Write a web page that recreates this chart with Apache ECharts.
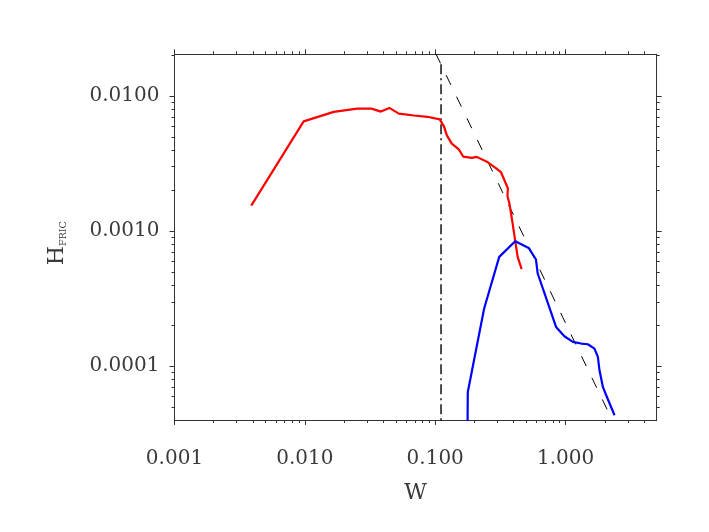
<!DOCTYPE html>
<html>
<head>
<meta charset="utf-8">
<script src="https://cdn.jsdelivr.net/npm/echarts@6/dist/echarts.min.js"></script>
<style>html,body{margin:0;padding:0;background:#fff}#c{width:709px;height:532px}</style>
</head>
<body>
<div id="c"></div>
<script>
// ---- data ----
const redW = [0.00388,0.00979,0.01665,0.0252,0.0325,0.0383,0.0445,0.0526,0.0687,0.0871,0.1083,0.1169,0.1226,0.1339,0.1517,0.1642,0.1909,0.2086,0.2489,0.292,0.319,0.361,0.358,0.371,0.391,0.411,0.4288,0.4603];
const redH = [0.001545,0.00650,0.00765,0.00808,0.00808,0.00768,0.00818,0.00742,0.00719,0.00703,0.00672,0.00594,0.00514,0.00445,0.00403,0.00356,0.00349,0.00355,0.00327,0.00293,0.00274,0.00208,0.00182,0.00160,0.001166,0.000843,0.000645,0.000523];
const blueW = [0.1769,0.1778,0.2373,0.3097,0.411,0.521,0.593,0.611,0.845,0.979,1.136,1.316,1.482,1.665,1.769,1.820,1.933,2.049,2.374];
const blueH = [0.000035,0.0000645,0.0002676,0.000645,0.000843,0.000752,0.000617,0.000486,0.0001955,0.0001668,0.0001514,0.0001473,0.0001455,0.0001352,0.0001172,0.0000934,0.0000703,0.0000610,0.0000434];
const slopeW = [0.1009, 2.27];
const slopeH = [0.0207, 0.0000403];
const cutW = [0.1108, 0.1108];
const cutH = [0.0172, 0.000035];
const xMajor = [0.001, 0.01, 0.1, 1];
const yMajor = [0.0001, 0.001, 0.01];
const xRange = [0.001, 5];
const yRange = [0.00004, 0.0204];

function minorVals(lo, hi) {
  const out = [];
  for (let e = Math.floor(Math.log10(lo)); e <= Math.ceil(Math.log10(hi)); e++) {
    for (let m = 2; m <= 9; m++) {
      const v = m * Math.pow(10, e);
      if (v > lo * 1.0001 && v < hi * 0.9999) out.push(v);
    }
  }
  return out;
}
const xMinor = minorVals(xRange[0], xRange[1]);
const yMinor = minorVals(yRange[0], yRange[1]);

const axisColor = '#333';
const font = 'DejaVu Serif';
const textColor = '#3a3a3a';

function xAx(pos, major, showLabel, showLine) {
  const ticks = major ? xMajor : xMinor;
  return {
    type: 'log', logBase: 10, min: xRange[0], max: xRange[1], position: pos,
    splitLine: {show: false},
    axisLine: {show: showLine, lineStyle: {color: axisColor, width: 1}},
    axisTick: {show: true, inside: false, length: major ? 5 : 3, customValues: ticks, lineStyle: {color: axisColor, width: 1}},
    axisLabel: showLabel ? {show: true, customValues: xMajor, margin: 29, fontFamily: font, fontSize: 20, color: textColor,
      formatter: v => Number(v).toFixed(3)} : {show: false},
    name: showLabel ? 'W' : '', nameLocation: 'middle', nameGap: 62,
    nameTextStyle: {fontFamily: font, fontSize: 22, color: textColor}
  };
}
function yAx(pos, major, showLabel, showLine) {
  const ticks = major ? yMajor : yMinor;
  return {
    type: 'log', logBase: 10, min: yRange[0], max: yRange[1], position: pos,
    splitLine: {show: false},
    axisLine: {show: showLine, lineStyle: {color: axisColor, width: 1}},
    axisTick: {show: true, inside: false, length: major ? 5 : 3, customValues: ticks, lineStyle: {color: axisColor, width: 1}},
    axisLabel: showLabel ? {show: true, customValues: yMajor, margin: 15, fontFamily: font, fontSize: 20, color: textColor,
      formatter: v => Number(v).toFixed(4)} : {show: false},
    name: showLabel ? '{h|H}{s|FRIC}' : '', nameLocation: 'middle', nameGap: 106, nameRotate: 90,
    nameTextStyle: {fontFamily: font, color: textColor, padding: [0, 12, 0, 0],
      rich: {h: {fontFamily: font, fontSize: 22, color: textColor}, s: {fontFamily: font, fontSize: 9.5, color: textColor, verticalAlign: 'bottom'}}}
  };
}

const chart = echarts.init(document.getElementById('c'), null, {renderer: 'canvas'});
chart.setOption({
  animation: false,
  backgroundColor: '#fff',
  grid: {left: 174.5, right: 52.3, top: 54.3, bottom: 112, containLabel: false},
  xAxis: [xAx('bottom', true, true, true), xAx('bottom', false, false, false), xAx('top', true, false, true), xAx('top', false, false, false)],
  yAxis: [yAx('left', true, true, true), yAx('left', false, false, false), yAx('right', true, false, true), yAx('right', false, false, false)],
  series: [
    {type: 'line', name: 'slope', xAxisIndex: 0, yAxisIndex: 0, showSymbol: false, symbol: 'none', clip: true,
      data: slopeW.map((w, i) => [w, slopeH[i]]), lineStyle: {color: '#000', width: 1, type: [11, 13]}},
    {type: 'line', name: 'cut', xAxisIndex: 0, yAxisIndex: 0, showSymbol: false, symbol: 'none', clip: true,
      data: cutW.map((w, i) => [w, cutH[i]]), lineStyle: {color: '#000', width: 1.4, type: [10, 4, 2, 4]}},
    {type: 'line', name: 'red', xAxisIndex: 0, yAxisIndex: 0, showSymbol: false, symbol: 'none', clip: true,
      data: redW.map((w, i) => [w, redH[i]]), lineStyle: {color: '#ff0000', width: 2.2}},
    {type: 'line', name: 'blue', xAxisIndex: 0, yAxisIndex: 0, showSymbol: false, symbol: 'none', clip: true,
      data: blueW.map((w, i) => [w, blueH[i]]), lineStyle: {color: '#0000ff', width: 2.2}}
  ]
});
</script>
</body>
</html>
